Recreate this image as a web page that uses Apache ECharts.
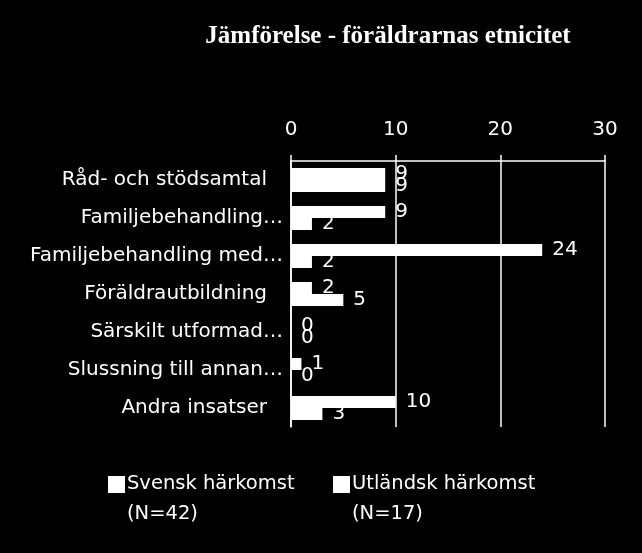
<!DOCTYPE html>
<html><head><meta charset="utf-8">
<script src="https://cdn.jsdelivr.net/npm/echarts@6/dist/echarts.min.js"></script>
<style>html,body{margin:0;padding:0;background:#000}#c{width:642px;height:553px}</style>
</head><body><div id="c"></div>
<script>
const categories = ["Råd- och stödsamtal ", "Familjebehandling…", "Familjebehandling med…", "Föräldrautbildning ", "Särskilt utformad…", "Slussning till annan…", "Andra insatser "];
const svensk = [9, 9, 24, 2, 0, 1, 10];
const utlandsk = [9, 2, 2, 5, 0, 0, 3];
const seriesNames = ["Svensk härkomst", "Utländsk härkomst"];
const seriesN = ["(N=42)", "(N=17)"];
const xTicks = [0, 10, 20, 30];

const F = "'DejaVu Sans', sans-serif";
const chart = echarts.init(document.getElementById('c'));
const legendIcon = 'path://M0,0H17V17H0Z M0,46H0.02V46.02H0Z';
function mkLegend(i, left) {
  return {
    data: [seriesNames[i]], left: left, top: 469, padding: 0, orient: 'horizontal',
    icon: legendIcon, itemWidth: 17, itemHeight: 46, itemGap: 0,
    formatter: n => n + '\n' + seriesN[i],
    textStyle: { color: '#fff', fontFamily: F, fontSize: 19.5, lineHeight: 30, padding: [0,0,0,-3] }
  };
}
chart.setOption({
  backgroundColor: '#000',
  animation: false,
  title: { text: 'Jämförelse - föräldrarnas etnicitet', left: 383, textAlign: 'center', top: 19,
    textStyle: { color: '#fff', fontFamily: "'Liberation Serif', 'Times New Roman', serif", fontWeight: 'bold', fontSize: 25 } },
  legend: [mkLegend(0, 108), mkLegend(1, 333)],
  grid: { left: 291, right: 37, top: 161, bottom: 126, containLabel: false },
  xAxis: {
    type: 'value', position: 'top', min: 0, max: 30, interval: 10,
    axisLine: { show: true, lineStyle: { color: '#fff', width: 1.5 } },
    axisTick: { show: true, length: 6, lineStyle: { color: '#fff', width: 1.5 } },
    splitLine: { show: true, lineStyle: { color: '#fff', width: 1.5 } },
    axisLabel: { color: '#fff', fontFamily: F, fontSize: 20, margin: 21,
      formatter: v => xTicks.includes(v) ? String(v) : '' }
  },
  yAxis: {
    type: 'category', data: categories, inverse: true,
    axisLine: { show: true, lineStyle: { color: '#fff', width: 1.5 } },
    axisTick: { show: false },
    axisLabel: { color: '#fff', fontFamily: F, fontSize: 20, margin: 8,
      formatter: v => /\s$/.test(v) ? v.replace(/\s+$/, '') + '{sp|}' : v,
      rich: { sp: { width: 16 } } }
  },
  series: [
    { name: seriesNames[0], type: 'bar', data: svensk, barGap: '0%', barWidth: 12,
      itemStyle: { color: '#fff' },
      label: { show: true, position: 'right', distance: 10, color: '#fff', fontFamily: F, fontSize: 20 } },
    { name: seriesNames[1], type: 'bar', data: utlandsk, barGap: '0%', barWidth: 12,
      itemStyle: { color: '#fff' },
      label: { show: true, position: 'right', distance: 10, color: '#fff', fontFamily: F, fontSize: 20 } }
  ]
});
</script></body></html>
